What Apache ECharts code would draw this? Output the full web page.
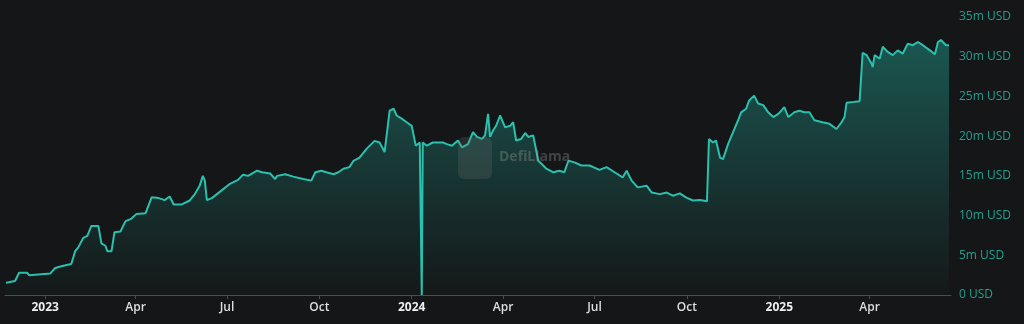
<!DOCTYPE html>
<html>
<head>
<meta charset="utf-8">
<script src="https://cdn.jsdelivr.net/npm/echarts@6/dist/echarts.min.js"></script>
<style>
html,body{margin:0;padding:0;background:#141617;}
#c{width:1024px;height:324px;}
</style>
</head>
<body>
<div id="c"></div>
<script>
const dates = [
'2022-11-23','2022-12-02','2022-12-06','2022-12-14','2022-12-16','2023-01-06','2023-01-11','2023-01-18','2023-01-27','2023-01-31',
'2023-02-03','2023-02-08','2023-02-12','2023-02-16','2023-02-23','2023-02-26','2023-03-02','2023-03-04','2023-03-08','2023-03-11',
'2023-03-17','2023-03-22','2023-03-27','2023-04-02','2023-04-11','2023-04-17','2023-04-24','2023-04-30','2023-05-05','2023-05-09',
'2023-05-17','2023-05-25','2023-05-30','2023-06-04','2023-06-07','2023-06-09','2023-06-11','2023-06-16','2023-06-21','2023-06-27',
'2023-07-04','2023-07-12','2023-07-17','2023-07-22','2023-07-31','2023-08-05','2023-08-13','2023-08-18','2023-08-20','2023-08-28',
'2023-09-05','2023-09-15','2023-09-23','2023-09-27','2023-10-03','2023-10-08','2023-10-15','2023-10-20','2023-10-25','2023-10-31',
'2023-11-04','2023-11-10','2023-11-17','2023-11-25','2023-11-30','2023-12-05','2023-12-10','2023-12-14','2023-12-17','2023-12-22',
'2023-12-27','2024-01-01','2024-01-05','2024-01-09','2024-01-11','2024-01-12','2024-01-16','2024-01-22','2024-02-01','2024-02-05',
'2024-02-10','2024-02-16','2024-02-20','2024-02-26','2024-03-02','2024-03-06','2024-03-11','2024-03-14','2024-03-17','2024-03-19',
'2024-03-22','2024-03-25','2024-03-29','2024-04-03','2024-04-08','2024-04-11','2024-04-14','2024-04-19','2024-04-23','2024-04-26',
'2024-05-01','2024-05-06','2024-05-11','2024-05-14','2024-05-21','2024-05-27','2024-06-01','2024-06-05','2024-06-11','2024-06-18',
'2024-06-26','2024-07-06','2024-07-13','2024-07-21','2024-07-29','2024-08-02','2024-08-07','2024-08-13','2024-08-22','2024-08-27',
'2024-09-04','2024-09-11','2024-09-17','2024-09-24','2024-09-30','2024-10-07','2024-10-14','2024-10-21','2024-10-23','2024-10-27',
'2024-10-30','2024-11-03','2024-11-06','2024-11-11','2024-11-16','2024-11-21','2024-11-24','2024-11-29','2024-12-02','2024-12-07',
'2024-12-11','2024-12-16','2024-12-21','2024-12-26','2024-12-31','2025-01-03','2025-01-06','2025-01-10','2025-01-16','2025-01-21',
'2025-01-26','2025-01-31','2025-02-05','2025-02-13','2025-02-20','2025-02-27','2025-03-04','2025-03-07','2025-03-09','2025-03-16',
'2025-03-22','2025-03-25','2025-03-29','2025-04-03','2025-04-04','2025-04-06','2025-04-11','2025-04-14','2025-04-19','2025-04-24',
'2025-04-29','2025-05-04','2025-05-09','2025-05-14','2025-05-19','2025-05-24','2025-05-31','2025-06-05','2025-06-08','2025-06-11',
'2025-06-16','2025-06-19'
];
// TVL in millions of USD
const tvl = [
1.55,1.77,2.8,2.8,2.5,2.7,3.4,3.66,3.9,5.55,
6.0,7.2,7.45,8.7,8.7,6.5,6.2,5.5,5.5,7.9,
8.0,9.3,9.55,10.2,10.3,12.3,12.2,11.95,12.4,11.4,
11.4,11.9,12.7,13.8,15.0,14.4,11.95,12.2,12.7,13.3,
14.0,14.5,15.15,15.0,15.65,15.45,15.3,14.6,15.0,15.2,
14.9,14.6,14.4,15.45,15.65,15.45,15.2,15.45,15.9,16.1,
16.9,17.3,18.4,19.4,19.2,18.0,23.2,23.45,22.6,22.2,
21.75,21.3,18.8,19.2,0,19.2,18.8,19.2,19.2,19.0,
18.8,19.45,18.6,19.0,20.5,19.9,19.65,20.1,22.8,19.9,
20.7,21.3,22.6,21.1,21.3,21.75,19.45,19.65,20.4,19.9,
20.1,16.9,16.3,15.9,15.45,15.65,15.45,16.9,16.7,16.3,
16.3,15.75,16.1,15.45,14.8,15.65,14.4,13.55,13.75,12.9,
12.7,12.9,12.5,12.8,12.3,11.9,11.95,11.8,19.65,19.2,
19.45,17.3,17.1,19.0,20.5,22.0,23.0,23.45,24.5,25.1,
24.1,23.9,23.0,22.4,22.8,23.2,23.65,22.4,23.0,23.2,
23.0,23.0,22.0,21.75,21.55,20.9,21.75,22.4,24.2,24.3,
24.4,30.5,30.2,29.1,28.7,30.2,29.75,31.25,30.6,30.2,
30.8,30.4,31.65,31.45,31.85,31.45,30.8,30.3,31.85,32.1,
31.45,31.45
];
const axisMinDate = '2022-11-22';
const axisMaxDate = '2025-06-21';
const yMax = 35;
const yStep = 5;

const chart = echarts.init(document.getElementById('c'), null, {renderer:'canvas'});
const seriesData = dates.map((d,i)=>[d, tvl[i]]);
const DAY = 24*3600*1000;
chart.setOption({
  backgroundColor:'#141617',
  animation:false,
  grid:{left:5,right:73,top:17,bottom:29,containLabel:false},
  xAxis:{
    type:'time',
    min:axisMinDate,
    max:axisMaxDate,
    splitNumber:10,
    minInterval:88*DAY,
    maxInterval:93*DAY,
    axisLine:{show:true,lineStyle:{color:'#4a4d50',width:1}},
    axisTick:{show:true,length:4,lineStyle:{color:'#4a4d50'}},
    splitLine:{show:false},
    axisLabel:{
      showMinLabel:false,showMaxLabel:false,
      color:'#dcdee0',fontSize:12,fontWeight:600,fontFamily:'Open Sans',margin:7,
      formatter:{year:'{yearStyle|{yyyy}}',month:'{MMM}',day:'{MMM}'},
      rich:{yearStyle:{fontWeight:'bold',color:'#eceef0',fontSize:12,fontFamily:'Open Sans'}}
    }
  },
  yAxis:{
    type:'value',
    position:'right',
    min:0,max:yMax,interval:yStep,
    axisLine:{show:false},
    axisTick:{show:false},
    splitLine:{show:false},
    axisLabel:{
      color:'#20a090',fontSize:12,fontFamily:'Open Sans',margin:8,
      formatter:v=> v===0 ? '0 USD' : v+'m USD'
    }
  },
  graphic:[
    {type:'rect',left:458,top:137,shape:{width:34,height:42,r:6},style:{fill:'rgba(120,120,120,0.22)'},silent:true,z:100},
    {type:'text',left:499,top:150,style:{text:'DefiLlama',fill:'rgba(160,160,160,0.33)',font:'bold 14px "Open Sans"'},silent:true,z:100}
  ],
  series:[{
    type:'line',
    data:seriesData,
    showSymbol:false,
    smooth:false,
    lineStyle:{color:'#2bc0ae',width:2},
    itemStyle:{color:'#2bc0ae'},
    areaStyle:{
      color:new echarts.graphic.LinearGradient(0,0,0,1,[
        {offset:0,color:'rgba(36,170,154,0.62)'},
        {offset:1,color:'rgba(36,170,154,0.02)'}
      ])
    }
  }]
});
</script>
</body>
</html>
